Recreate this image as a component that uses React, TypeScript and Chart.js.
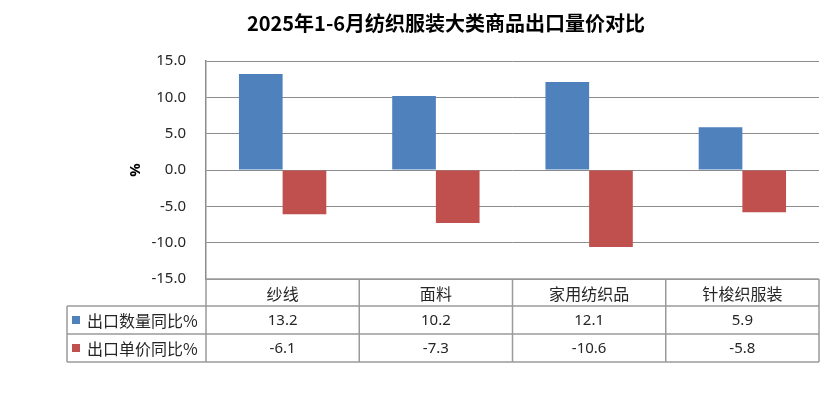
import React, { useEffect, useRef } from "react";
import { Chart, registerables } from "chart.js";

Chart.register(...registerables);

const title = "2025年1-6月纺织服装大类商品出口量价对比";
const categories = ["纱线", "面料", "家用纺织品", "针梭织服装"];
const seriesNames = ["出口数量同比%", "出口单价同比%"];
const qtyYoY = [13.2, 10.2, 12.1, 5.9];
const priceYoY = [-6.1, -7.3, -10.6, -5.8];
const yMin = -15;
const yMax = 15;
const yStep = 5;
const yAxisTitle = "%";

const BLUE = "#4F81BD";
const RED = "#C0504D";
const GRID = "#8c8c8c";
const TABLE_LINE = "#9a9a9a";
const CJK = '"Noto Sans CJK SC", "Noto Sans", sans-serif';
const LATIN = '"Noto Sans", "Noto Sans CJK SC", sans-serif';

const tablePlugin = {
  id: "dataTable",
  afterDraw(chart: any) {
    const ctx = chart.ctx as CanvasRenderingContext2D;
    const area = chart.chartArea;
    const n = categories.length;
    const colW = (area.right - area.left) / n;
    const tableLeft = 67;
    const rowH = [27, 28, 28];
    const y0 = area.bottom;
    const y1 = y0 + rowH[0];
    const y2 = y1 + rowH[1];
    const y3 = y2 + rowH[2];
    ctx.save();
    ctx.strokeStyle = TABLE_LINE;
    ctx.lineWidth = 1.5;
    ctx.beginPath();
    ctx.moveTo(area.left, y0); ctx.lineTo(area.right, y0);
    ctx.moveTo(tableLeft, y1); ctx.lineTo(area.right, y1);
    ctx.moveTo(tableLeft, y2); ctx.lineTo(area.right, y2);
    ctx.moveTo(tableLeft, y3); ctx.lineTo(area.right, y3);
    ctx.moveTo(tableLeft, y1); ctx.lineTo(tableLeft, y3);
    for (let i = 0; i <= n; i++) {
      const x = area.left + i * colW;
      ctx.moveTo(x, y0); ctx.lineTo(x, y3);
    }
    ctx.stroke();

    ctx.textAlign = "center";
    ctx.textBaseline = "middle";
    ctx.fillStyle = "#262626";
    const xs = chart.scales.x;
    categories.forEach((c, i) => {
      const cx = xs.getPixelForValue(i);
      ctx.font = `16px ${CJK}`;
      ctx.fillText(c, cx, (y0 + y1) / 2 + 1);
      ctx.font = `15px ${LATIN}`;
      const ds = chart.data.datasets;
      ctx.fillText(String(ds[0].data[i].toFixed(1)), cx, (y1 + y2) / 2 + 1);
      ctx.fillText(String(ds[1].data[i].toFixed(1)), cx, (y2 + y3) / 2 + 1);
    });

    const rows = [(y1 + y2) / 2, (y2 + y3) / 2];
    chart.data.datasets.forEach((ds: any, j: number) => {
      ctx.fillStyle = ds.backgroundColor;
      ctx.fillRect(72, rows[j] - 4, 8, 8);
      ctx.fillStyle = "#262626";
      ctx.textAlign = "left";
      ctx.font = `16px ${CJK}`;
      ctx.fillText(ds.label, 87, rows[j] + 1);
    });

    ctx.textAlign = "center";
    ctx.fillStyle = "#000";
    ctx.font = `bold 20px ${CJK}`;
    ctx.fillText(title, 446, 23);

    ctx.save();
    ctx.translate(136, (area.top + area.bottom) / 2);
    ctx.rotate(-Math.PI / 2);
    ctx.font = `bold 15px ${LATIN}`;
    ctx.fillText(yAxisTitle, 0, 0);
    ctx.restore();
    ctx.restore();
  },
};

export default function App() {
  const ref = useRef<HTMLCanvasElement | null>(null);
  useEffect(() => {
    if (!ref.current) return;
    const chart = new Chart(ref.current, {
      type: "bar",
      data: {
        labels: categories,
        datasets: [
          { label: seriesNames[0], data: qtyYoY, backgroundColor: BLUE, borderWidth: 0 },
          { label: seriesNames[1], data: priceYoY, backgroundColor: RED, borderWidth: 0 },
        ],
      },
      options: {
        animation: false,
        responsive: true,
        maintainAspectRatio: false,
        layout: { padding: { left: 0, right: 11, top: 61, bottom: 115 } },
        datasets: { bar: { categoryPercentage: 0.57, barPercentage: 1 } },
        plugins: {
          legend: { display: false },
          title: { display: false },
          tooltip: { enabled: false },
        },
        scales: {
          x: { display: false },
          y: {
            min: yMin,
            max: yMax,
            afterFit(scale: any) {
              scale.width = 206;
            },
            ticks: {
              stepSize: yStep,
              padding: 20,
              color: "#262626",
              font: { family: LATIN, size: 15 },
              callback: (v: any) => Number(v).toFixed(1),
            },
            grid: { color: GRID, lineWidth: 1, drawTicks: false },
            border: { display: true, color: GRID, width: 1.5 },
          },
        },
      },
      plugins: [tablePlugin],
    });
    return () => chart.destroy();
  }, []);
  return (
    <div style={{ position: "absolute", left: 0, top: 0, width: 830, height: 394, background: "#fff" }}>
      <canvas ref={ref} />
    </div>
  );
}
